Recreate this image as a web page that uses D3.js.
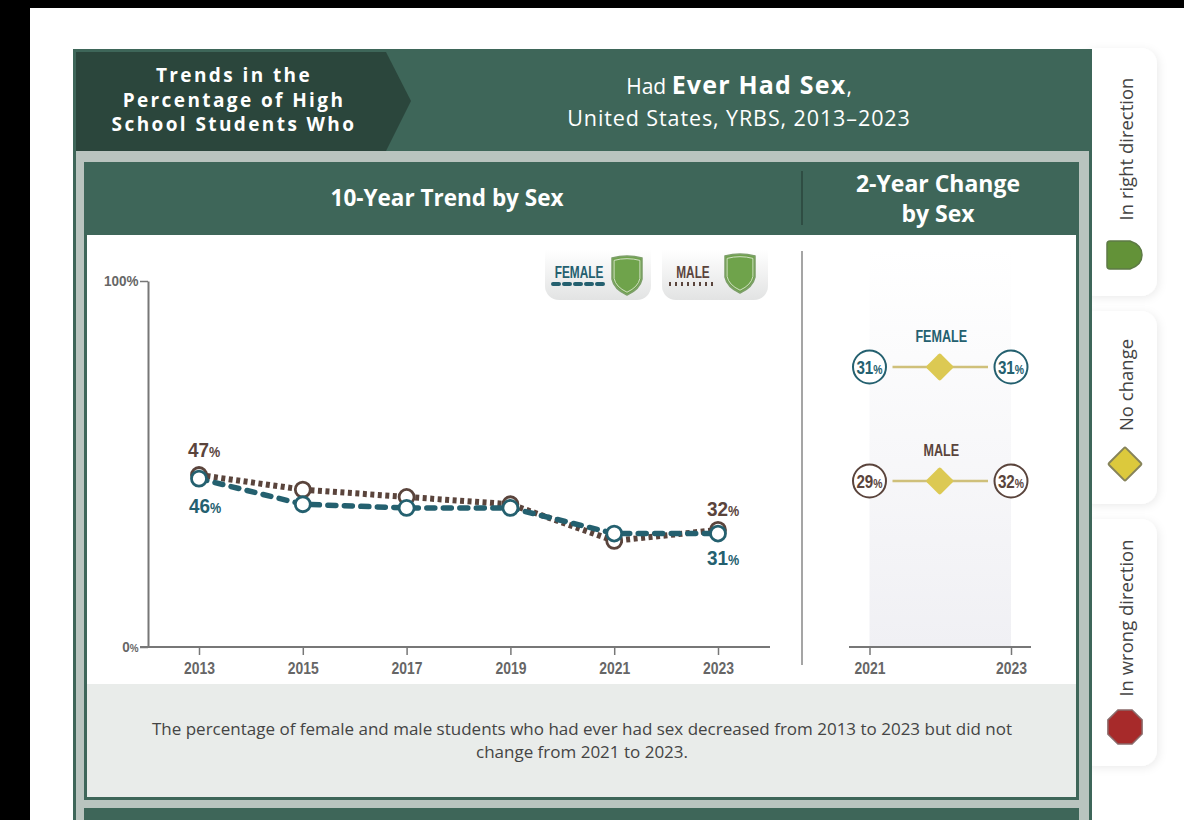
<!DOCTYPE html>
<html>
<head>
<meta charset="utf-8">
<script src="https://cdn.jsdelivr.net/npm/d3@7"></script>
<style>
  html, body { margin: 0; padding: 0; background: #fff; }
  svg { display: block; }
  .head { font-family: "Open Sans", Lato, sans-serif; fill: #fff; text-anchor: middle; }
  .narrow { font-family: "Liberation Sans", sans-serif; font-weight: 700; }
  .body { font-family: "Open Sans", Lato, sans-serif; }
  .axis text { font-family: "Liberation Sans", sans-serif; font-weight: 700; fill: #666; }
  .axis path, .axis line { stroke: #777; }
</style>
</head>
<body>
<svg id="chart" width="1184" height="820"></svg>
<script>
// values
const years = [2013, 2015, 2017, 2019, 2021, 2023];
const femaleValues = [46, 39, 38, 38, 31, 31];
const maleValues = [47, 43, 41, 39, 29, 32];
const yTicks = [0, 100];

const changeYears = [2021, 2023];
const sexes = ['FEMALE', 'MALE'];
const change2021 = [31, 29];
const change2023 = [31, 32];

const trendLabels = [
  {sex: 'MALE', year: 2013, value: 47, dx: 5, dy: -18},
  {sex: 'FEMALE', year: 2013, value: 46, dx: 6, dy: 34},
  {sex: 'MALE', year: 2023, value: 32, dx: 5, dy: -14},
  {sex: 'FEMALE', year: 2023, value: 31, dx: 5, dy: 31}
];

const keyItems = ['In right direction', 'No change', 'In wrong direction'];

const GREEN = '#3e6659', DARK = '#2b463c', PALE = '#b9c4bf';
const TEAL = '#24606f', BROWN = '#5a443c', LEAF = '#6fa34b', GOLD = '#dcc953';

const svg = d3.select('#chart');
const defs = svg.append('defs');

function vGrad(id, a, b) {
  const g = defs.append('linearGradient').attr('id', id)
    .attr('x1', 0).attr('x2', 0).attr('y1', 0).attr('y2', 1);
  g.append('stop').attr('offset', '0%').attr('stop-color', a);
  g.append('stop').attr('offset', '100%').attr('stop-color', b);
}
vGrad('pill', '#ffffff', '#e2e3e3');
vGrad('band', '#ffffff', '#f0f0f4');

const shadow = defs.append('filter').attr('id', 'soft')
  .attr('x', '-30%').attr('y', '-10%').attr('width', '160%').attr('height', '120%');
shadow.append('feDropShadow').attr('dx', 2).attr('dy', 2).attr('stdDeviation', 4)
  .attr('flood-color', '#000').attr('flood-opacity', 0.08);

function rect(x, y, w, h, fill) {
  return svg.append('rect').attr('x', x).attr('y', y).attr('width', w).attr('height', h).attr('fill', fill);
}

// no condensed face is installed, so squeeze the text sideways
function squeeze(sel, x, y, sx) {
  return sel.attr('x', 0).attr('y', 0).attr('dy', null)
    .attr('transform', `translate(${x},${y}) scale(${sx || 0.78},1)`);
}

// screenshot edges
rect(0, 0, 1184, 8, '#000');
rect(0, 0, 30, 820, '#000');

// key cards on the right, the frame sits over their left edge
[[48, 248], [311, 193], [519, 247]].forEach(d => {
  svg.append('rect').attr('x', 1080).attr('y', d[0]).attr('width', 77).attr('height', d[1]).attr('rx', 16)
    .attr('fill', '#fff').attr('filter', 'url(#soft)');
});

// frame
rect(73, 49, 1019, 771, GREEN);
rect(76, 151, 1013, 669, PALE);
rect(84, 162, 995, 638, GREEN);
rect(87, 235, 989, 449, '#fff');
rect(87, 684, 989, 113, '#e9ecea');
rect(76, 800, 1013, 8, PALE);
rect(84, 808, 995, 12, GREEN);

// top banner
svg.append('polygon').attr('fill', DARK)
  .attr('points', '76,52 386,52 411,101 386,151 76,151');
[['Trends in the', 82], ['Percentage of High', 107], ['School Students Who', 131]].forEach(d => {
  svg.append('text').attr('class', 'head').attr('x', 234).attr('y', d[1])
    .attr('font-size', 19).attr('font-weight', 700).attr('letter-spacing', 2.4).text(d[0]);
});
const t1 = svg.append('text').attr('class', 'head').attr('x', 739).attr('y', 94).attr('font-size', 21);
t1.append('tspan').text('Had ');
t1.append('tspan').attr('font-weight', 700).attr('font-size', 25).attr('letter-spacing', 1.2).text('Ever Had Sex');
t1.append('tspan').text(',');
svg.append('text').attr('class', 'head').attr('x', 739).attr('y', 126)
  .attr('font-size', 21.5).attr('letter-spacing', 0.9).text('United States, YRBS, 2013–2023');

svg.append('text').attr('class', 'head').attr('x', 447).attr('y', 206)
  .attr('font-size', 22.5).attr('font-weight', 700).text('10-Year Trend by Sex');
svg.append('text').attr('class', 'head').attr('x', 938).attr('y', 192)
  .attr('font-size', 23).attr('font-weight', 700).text('2-Year Change');
svg.append('text').attr('class', 'head').attr('x', 938).attr('y', 222)
  .attr('font-size', 23).attr('font-weight', 700).text('by Sex');

// dividers
svg.append('line').attr('x1', 802).attr('x2', 802).attr('y1', 171).attr('y2', 225)
  .attr('stroke', DARK).attr('stroke-width', 1.5);
svg.append('line').attr('x1', 802).attr('x2', 802).attr('y1', 251).attr('y2', 665)
  .attr('stroke', '#a5a5a5').attr('stroke-width', 2);

// scales
const x = d3.scalePoint().domain(years).range([199, 718]);
const y = d3.scaleLinear().domain([0, 100]).range([647, 281]);
const x2 = d3.scalePoint().domain(changeYears).range([869.5, 1011]);
const rowY = d3.scalePoint().domain(sexes).range([367, 481]);

// percent text with the small % sign
function pct(sel, v, big, small) {
  sel.append('tspan').attr('font-size', big).text(v);
  sel.append('tspan').attr('font-size', small).text('%');
}

// y axis
const yAxis = svg.append('g').attr('class', 'axis').attr('transform', 'translate(148,0)')
  .call(d3.axisLeft(y).tickValues(yTicks).tickSize(8).tickSizeOuter(0).tickFormat(''));
yAxis.select('.domain').attr('stroke-width', 2);
yAxis.selectAll('.tick line').attr('stroke-width', 1.5);
yAxis.selectAll('.tick text').each(function(d) {
  const s = squeeze(d3.select(this).text(null), -9.5, 4.5, 0.9);
  pct(s, d, 15, d === 100 ? 15 : 11);
});

// x axis (main)
function yearAxis(scale, path) {
  const g = svg.append('g').attr('class', 'axis').attr('transform', 'translate(0,647)')
    .call(d3.axisBottom(scale).tickSize(8).tickSizeOuter(0));
  g.select('.domain').attr('d', path).attr('stroke-width', 2);
  g.selectAll('.tick line').attr('stroke-width', 1.5);
  g.selectAll('.tick text').attr('font-size', 16).each(function() {
    squeeze(d3.select(this), 0, 27, 0.87);
  });
}

// band of the 2-year panel goes under its axis
svg.append('rect').attr('x', x2(2021)).attr('y', 250)
  .attr('width', x2(2023) - x2(2021)).attr('height', y(0) - 250).attr('fill', 'url(#band)');
yearAxis(x, 'M140,0H770');
yearAxis(x2, 'M849,0H1031');

// trend lines
const line = d3.line().x(d => x(d.year)).y(d => y(d.value));
const zip = vals => years.map((year, i) => ({year, value: vals[i]}));

svg.append('path').datum(zip(maleValues)).attr('d', line)
  .attr('fill', 'none').attr('stroke', BROWN).attr('stroke-width', 6).attr('stroke-dasharray', '4 3.5');
svg.selectAll('.m-pt').data(zip(maleValues)).join('circle').attr('class', 'm-pt')
  .attr('cx', d => x(d.year)).attr('cy', d => y(d.value)).attr('r', 7.5)
  .attr('fill', '#fff').attr('stroke', BROWN).attr('stroke-width', 2.8);

svg.append('path').datum(zip(femaleValues)).attr('d', line)
  .attr('fill', 'none').attr('stroke', TEAL).attr('stroke-width', 5.5)
  .attr('stroke-linecap', 'round').attr('stroke-dasharray', '8 8.5');
svg.selectAll('.f-pt').data(zip(femaleValues)).join('circle').attr('class', 'f-pt')
  .attr('cx', d => x(d.year)).attr('cy', d => y(d.value)).attr('r', 7.5)
  .attr('fill', '#fff').attr('stroke', TEAL).attr('stroke-width', 2.8);

// end labels
trendLabels.forEach(d => {
  const s = squeeze(svg.append('text').attr('class', 'narrow').attr('text-anchor', 'middle')
    .attr('fill', d.sex === 'MALE' ? BROWN : TEAL), x(d.year) + d.dx, y(d.value) + d.dy, 0.9);
  pct(s, d.value, 21, 14);
});

// shield, drawn around its centre
function shield(cx, cy) {
  const g = svg.append('g').attr('transform', `translate(${cx},${cy})`);
  const p = 'M-15,-17 Q0,-21 15,-17 V4 Q13,14 0,20 Q-13,14 -15,4 Z';
  g.append('path').attr('d', p).attr('fill', LEAF).attr('stroke', '#7d9f6a').attr('stroke-width', 1.5);
  g.append('path').attr('d', p).attr('fill', 'none').attr('stroke', '#dfe8d6')
    .attr('stroke-width', 1).attr('transform', 'scale(0.86)');
}

// legend pills
[['FEMALE', 545, 579, TEAL, 553, 603, 627, 275], ['MALE', 662, 693, BROWN, 669, 716, 740, 273]].forEach(d => {
  svg.append('path').attr('fill', 'url(#pill)')
    .attr('d', `M${d[1]},250 h106 v36 a14,14 0 0 1 -14,14 h-78 a14,14 0 0 1 -14,-14 Z`);
  squeeze(svg.append('text').attr('class', 'narrow').attr('text-anchor', 'middle')
    .attr('font-size', 16).attr('fill', d[3]).text(d[0]), d[2], 278, 0.74);
  const l = svg.append('line').attr('x1', d[4]).attr('x2', d[5]).attr('y1', 284).attr('y2', 284)
    .attr('stroke', d[3]);
  if (d[0] === 'FEMALE') l.attr('stroke-width', 4).attr('stroke-linecap', 'round').attr('stroke-dasharray', '6 5');
  else l.attr('stroke-width', 4).attr('stroke-dasharray', '2 4');
  shield(d[6], d[7]);
});

// 2-year change rows
sexes.forEach((sex, i) => {
  const cy = rowY(sex), col = sex === 'MALE' ? BROWN : TEAL;
  const mid = (x2(2021) + x2(2023)) / 2;
  squeeze(svg.append('text').attr('class', 'narrow').attr('text-anchor', 'middle')
    .attr('font-size', 17).attr('fill', col).text(sex), mid + 1, cy - 25, 0.74);
  svg.append('line').attr('x1', x2(2021) + 23).attr('x2', x2(2023) - 23).attr('y1', cy).attr('y2', cy)
    .attr('stroke', '#cfc07a').attr('stroke-width', 2.5);
  svg.append('rect').attr('x', -10).attr('y', -10).attr('width', 20).attr('height', 20).attr('rx', 2)
    .attr('transform', `translate(${mid - 0.5},${cy}) rotate(45)`).attr('fill', GOLD);
  [[2021, change2021[i]], [2023, change2023[i]]].forEach(([yr, v]) => {
    svg.append('circle').attr('cx', x2(yr)).attr('cy', cy).attr('r', 16.5)
      .attr('fill', '#fff').attr('stroke', col).attr('stroke-width', 2);
    const s = squeeze(svg.append('text').attr('class', 'narrow').attr('text-anchor', 'middle')
      .attr('fill', col), x2(yr), cy + 6.5, 0.8);
    pct(s, v, 19, 13);
  });
});

// footer text
[['The percentage of female and male students who had ever had sex decreased from 2013 to 2023 but did not', 735],
 ['change from 2021 to 2023.', 758]].forEach(d => {
  svg.append('text').attr('class', 'body').attr('x', 582).attr('y', d[1]).attr('text-anchor', 'middle')
    .attr('font-size', 17).attr('fill', '#444').text(d[0]);
});

// key labels and symbols
[[149, 0], [385, 1], [618, 2]].forEach(d => {
  svg.append('text').attr('class', 'body').attr('text-anchor', 'middle')
    .attr('transform', `translate(1133,${d[0]}) rotate(-90)`)
    .attr('font-size', 18.5).attr('fill', '#444').text(keyItems[d[1]]);
});
svg.append('path').attr('d', 'M1110,241 H1130 Q1142,245 1142,255 Q1142,265 1130,269 H1110 Q1107,269 1107,266 V244 Q1107,241 1110,241 Z')
  .attr('fill', '#639238').attr('stroke', '#5d7a45').attr('stroke-width', 1.5);
svg.append('rect').attr('x', -12).attr('y', -12).attr('width', 24).attr('height', 24).attr('rx', 1.5)
  .attr('transform', 'translate(1125,464) rotate(45)').attr('fill', '#dcc93c').attr('stroke', '#86835a').attr('stroke-width', 2);
const octagon = d3.range(8).map(i => {
  const a = Math.PI / 8 + i * Math.PI / 4;
  return [1125 + 18.5 * Math.cos(a), 727 + 18.5 * Math.sin(a)].join(',');
}).join(' ');
svg.append('polygon').attr('points', octagon).attr('fill', '#a72a2a').attr('stroke', '#8a6a6a').attr('stroke-width', 1.5);
</script>
</body>
</html>
